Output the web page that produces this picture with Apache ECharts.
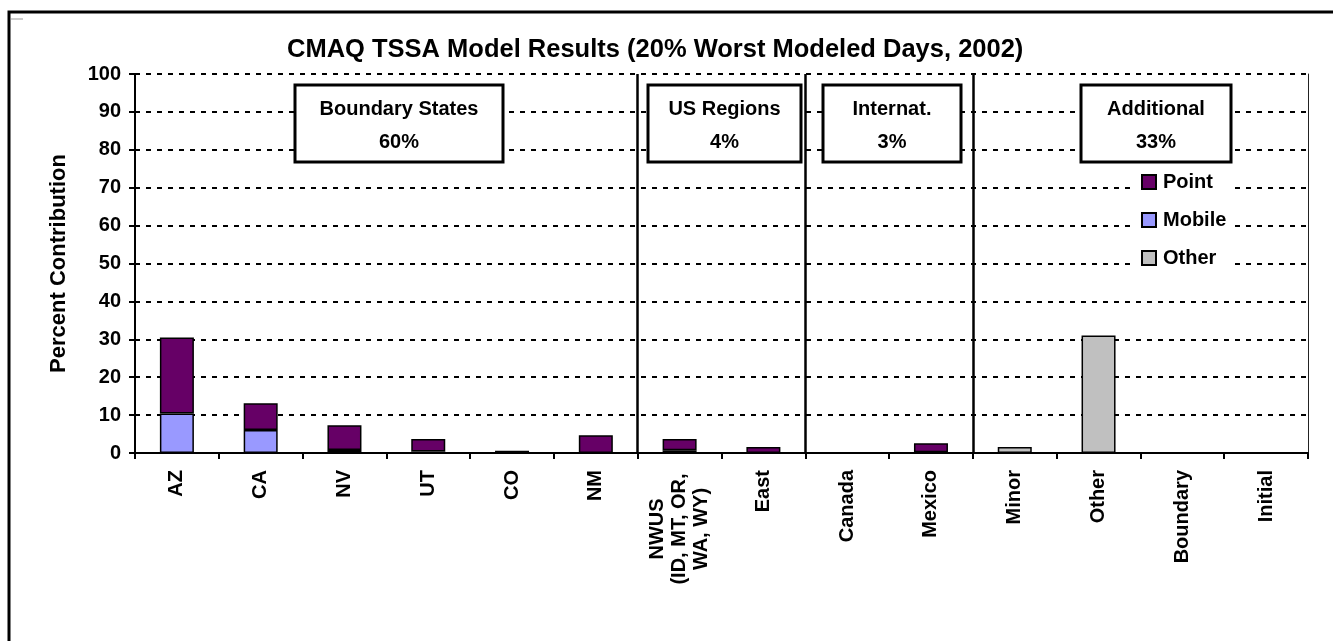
<!DOCTYPE html>
<html>
<head>
<meta charset="utf-8">
<script src="https://cdn.jsdelivr.net/npm/echarts@6/dist/echarts.min.js"></script>
<style>
html,body{margin:0;padding:0;background:#fff;}
#chart{width:1333px;height:641px;}
</style>
</head>
<body>
<div id="chart"></div>
<script>
// ---- data ----
const categories = ['AZ','CA','NV','UT','CO','NM','NWUS\n(ID, MT, OR,\nWA, WY)','East','Canada','Mexico','Minor','Other','Boundary','Initial'];
const mobileValues = [10.4, 6.1, 0.8, 0.4, 0.2, 0, 0.7, 0, 0, 0.2, 0, 0, 0, 0];
const pointValues  = [20.1, 7.0, 6.5, 3.3, 0.4, 4.7, 3.0, 1.6, 0, 2.4, 0, 0, 0, 0];
const otherValues  = [0, 0, 0, 0, 0, 0, 0, 0, 0, 0, 1.6, 31.0, 0, 0];
const yTicks = [0, 10, 20, 30, 40, 50, 60, 70, 80, 90, 100];
const groupSeparators = [6, 8, 10]; // boundaries between category groups (in category units)
const groupLabels = ['Boundary States', 'US Regions', 'Internat.', 'Additional'];
const groupShares = ['60%', '4%', '3%', '33%'];
const titleText = 'CMAQ TSSA Model Results (20% Worst Modeled Days, 2002)';
const yAxisName = 'Percent Contribution';

const FONT = '"Liberation Sans", Arial, sans-serif';
const el = document.getElementById('chart');
const chart = echarts.init(el, null, {renderer: 'canvas', width: 1333, height: 641});

// multi-line rotated labels: each line centered within a common width
function centerLines(v) {
  if (v.indexOf('\n') < 0) return v;
  return v.split('\n').map(l => '{c|' + l + '}').join('\n');
}
const nz = arr => arr.map(v => v === 0 ? null : v);

// annotation boxes (pixel layout)
const boxes = [
  {x: 295, w: 208},
  {x: 648, w: 153},
  {x: 823, w: 138},
  {x: 1081, w: 150}
];
const graphics = [
  {type: 'rect', shape: {x: 9, y: 12, width: 1400, height: 700}, style: {fill: 'none', stroke: '#000', lineWidth: 3}, z: 0, silent: true},
  {type: 'line', shape: {x1: 11, y1: 19, x2: 23, y2: 19}, style: {stroke: '#999', lineWidth: 1}, silent: true}
];
boxes.forEach((b, i) => {
  graphics.push({type: 'rect', shape: {x: b.x, y: 85, width: b.w, height: 77},
    style: {fill: '#fff', stroke: '#000', lineWidth: 3}, z: 100});
  graphics.push({type: 'text', x: b.x + b.w / 2, y: 109, z: 101,
    style: {text: groupLabels[i], font: 'bold 20px ' + FONT, fill: '#000', textAlign: 'center', textVerticalAlign: 'middle'}});
  graphics.push({type: 'text', x: b.x + b.w / 2, y: 142, z: 101,
    style: {text: groupShares[i], font: 'bold 20px ' + FONT, fill: '#000', textAlign: 'center', textVerticalAlign: 'middle'}});
});

const barCommon = {
  type: 'bar', stack: 'total', barWidth: 34,
  emphasis: {disabled: true}
};

chart.setOption({
  animation: false,
  backgroundColor: '#fff',
  textStyle: {fontFamily: FONT},
  title: {
    text: titleText, left: 282, top: 32,
    textStyle: {fontFamily: FONT, fontSize: 25.5, fontWeight: 'bold', color: '#000'}
  },
  grid: {left: 135, right: 25, top: 74, bottom: 188, containLabel: false},
  legend: {
    data: ['Point', 'Mobile', 'Other'],
    orient: 'vertical', left: 1133, top: 166,
    padding: [6, 6, 6, 8], itemGap: 18,
    itemWidth: 14, itemHeight: 14, icon: 'rect',
    backgroundColor: '#fff',
    textStyle: {fontFamily: FONT, fontSize: 20, fontWeight: 'bold', color: '#000', padding: [0, 0, 0, 2]},
    z: 50
  },
  xAxis: [{
    type: 'category', data: categories,
    axisLine: {lineStyle: {color: '#000', width: 2}},
    axisTick: {show: true, length: 6, lineStyle: {color: '#000', width: 2}, interval: 0},
    axisLabel: {interval: 0, rotate: 90, margin: 17, fontFamily: FONT, fontSize: 20, fontWeight: 'bold', color: '#000',
      formatter: centerLines, lineHeight: 22,
      rich: {c: {width: 118, align: 'center', fontFamily: FONT, fontSize: 20, fontWeight: 'bold', color: '#000', lineHeight: 22}}},
    splitLine: {show: false}
  }, {
    type: 'value', min: 0, max: categories.length, show: false
  }],
  yAxis: [{
    type: 'value', min: yTicks[0], max: yTicks[yTicks.length - 1], interval: yTicks[1] - yTicks[0],
    name: yAxisName, nameLocation: 'middle', nameGap: 65, nameRotate: 90,
    nameTextStyle: {fontFamily: FONT, fontSize: 22, fontWeight: 'bold', color: '#000'},
    axisLine: {show: true, lineStyle: {color: '#000', width: 2}},
    axisTick: {show: true, length: 6, lineStyle: {color: '#000', width: 2}},
    axisLabel: {margin: 14, fontFamily: FONT, fontSize: 20, fontWeight: 'bold', color: '#000'},
    splitLine: {show: true, lineStyle: {color: '#000', width: 2, type: [5, 6]}}
  }, {
    type: 'value', position: 'right', min: 0, max: 100,
    axisLine: {show: true, lineStyle: {color: '#222', width: 1}},
    axisTick: {show: false}, axisLabel: {show: false}, splitLine: {show: false}
  }],
  series: [
    Object.assign({}, barCommon, {name: 'Mobile', data: nz(mobileValues), itemStyle: {color: '#9999FF', borderColor: '#000', borderWidth: 1.5}}),
    Object.assign({}, barCommon, {name: 'Point', data: nz(pointValues), itemStyle: {color: '#660066', borderColor: '#000', borderWidth: 1.5}}),
    Object.assign({}, barCommon, {name: 'Other', data: nz(otherValues), itemStyle: {color: '#C0C0C0', borderColor: '#000', borderWidth: 1.5}}),
    {
      type: 'scatter', xAxisIndex: 1, yAxisIndex: 0, data: [], silent: true,
      markLine: {
        silent: true, symbol: ['none', 'none'], animation: false,
        label: {show: false},
        lineStyle: {color: '#000', width: 2.5, type: 'solid'},
        data: groupSeparators.map(v => ({xAxis: v}))
      }
    }
  ],
  graphic: graphics
});
</script>
</body>
</html>
